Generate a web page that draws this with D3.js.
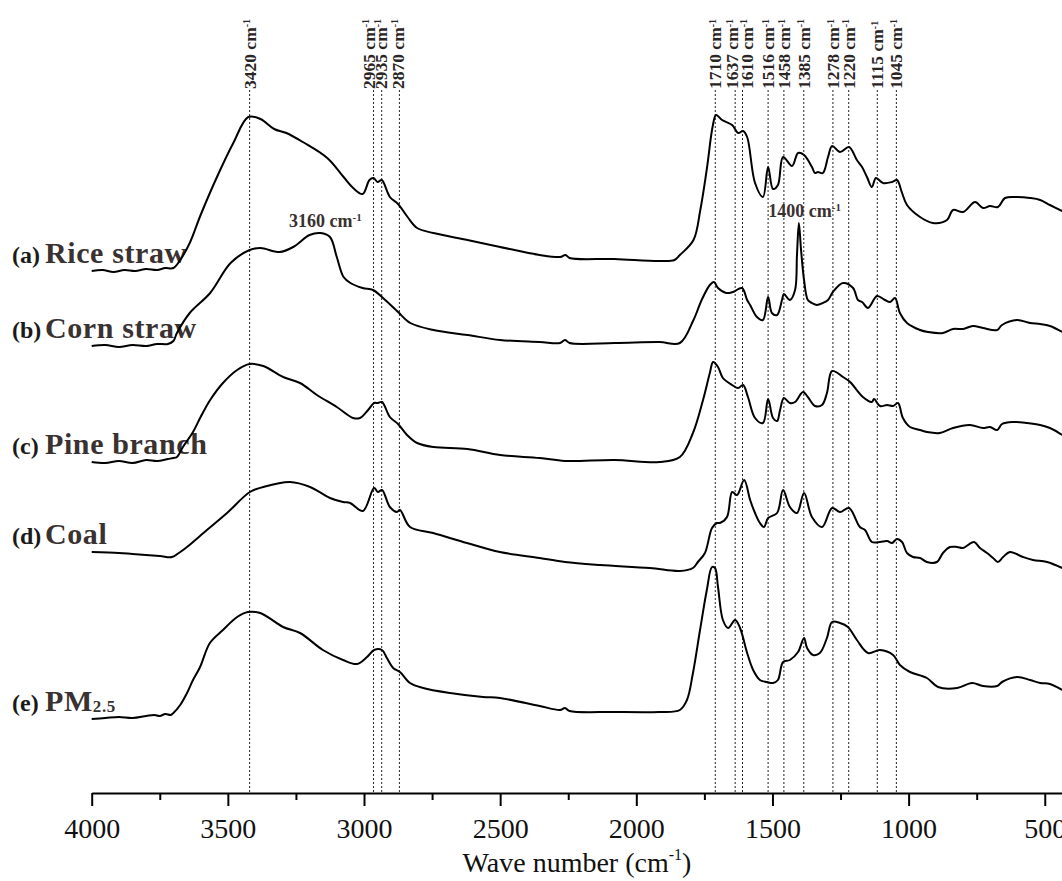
<!DOCTYPE html>
<html>
<head>
<meta charset="utf-8">
<script src="https://cdn.jsdelivr.net/npm/d3@7"></script>
<style>
body { margin: 0; background: #fff; }
svg { display: block; font-family: "Liberation Serif", "Times New Roman", serif; }
</style>
</head>
<body>
<script>
// band positions marked with dotted lines (cm-1)
var bandMarks = [3420, 2965, 2935, 2870, 1710, 1637, 1610, 1516, 1458, 1385, 1278, 1220, 1115, 1045];
// extra peak notes on the corn straw curve
var peakNotes = [3160, 1400];

var tickLabels = [4000, 3500, 3000, 2500, 2000, 1500, 1000, 500];
var minorTicks = [3750, 3250, 2750, 2250, 1750, 1250, 750];

var sampleTags = ["(a)", "(b)", "(c)", "(d)", "(e)"];
var sampleNames = ["Rice straw", "Corn straw", "Pine branch", "Coal", "PM"];

// [wavenumber, stacked intensity (a.u.)]
var riceStraw = [[4000,5.22],[3960,5.23],[3920,5.21],[3880,5.23],[3840,5.22],[3800,5.24],[3760,5.23],[3730,5.25],[3700,5.25],[3675,5.33],[3640,5.50],[3600,5.78],[3540,6.16],[3480,6.50],[3425,6.76],[3380,6.74],[3330,6.64],[3285,6.60],[3225,6.51],[3135,6.35],[3075,6.16],[3040,6.05],[3005,5.99],[2980,6.13],[2965,6.15],[2950,6.11],[2935,6.13],[2905,5.96],[2875,5.89],[2840,5.76],[2805,5.65],[2745,5.60],[2620,5.53],[2500,5.46],[2355,5.38],[2280,5.36],[2260,5.38],[2245,5.35],[2080,5.34],[1915,5.32],[1860,5.33],[1840,5.38],[1790,5.53],[1765,5.83],[1740,6.26],[1720,6.66],[1707,6.78],[1685,6.73],[1648,6.68],[1626,6.60],[1608,6.62],[1593,6.56],[1564,6.10],[1535,5.96],[1516,6.26],[1498,6.04],[1480,6.08],[1461,6.36],[1428,6.27],[1406,6.40],[1384,6.38],[1355,6.26],[1344,6.20],[1333,6.21],[1315,6.20],[1296,6.36],[1281,6.47],[1252,6.41],[1219,6.46],[1190,6.33],[1171,6.26],[1153,6.16],[1135,6.06],[1120,6.15],[1094,6.10],[1061,6.11],[1043,6.13],[1024,6.00],[1006,5.88],[958,5.76],[911,5.70],[859,5.73],[837,5.83],[800,5.81],[756,5.91],[727,5.85],[701,5.87],[672,5.86],[646,5.95],[602,5.96],[554,5.95],[517,5.93],[481,5.88],[436,5.82]];

var cornStraw = [[4000,4.47],[3950,4.48],[3900,4.46],[3850,4.48],[3800,4.47],[3760,4.49],[3720,4.49],[3700,4.52],[3687,4.60],[3640,4.80],[3565,5.00],[3490,5.30],[3420,5.43],[3380,5.45],[3310,5.41],[3260,5.46],[3200,5.58],[3160,5.60],[3125,5.56],[3100,5.36],[3075,5.16],[3050,5.10],[3005,5.05],[2967,5.03],[2930,4.95],[2875,4.81],[2830,4.70],[2745,4.63],[2620,4.58],[2500,4.53],[2355,4.51],[2280,4.50],[2262,4.53],[2245,4.50],[2080,4.50],[1915,4.51],[1840,4.50],[1790,4.73],[1760,4.93],[1730,5.08],[1715,5.11],[1700,5.05],[1670,5.00],[1645,5.01],[1612,5.05],[1593,4.93],[1582,4.88],[1557,4.76],[1535,4.73],[1516,4.96],[1502,4.80],[1483,4.78],[1465,4.93],[1458,4.99],[1436,4.93],[1417,5.03],[1410,5.38],[1403,5.70],[1395,5.43],[1384,5.13],[1370,4.93],[1355,4.90],[1337,4.88],[1315,4.90],[1296,4.93],[1278,5.01],[1241,5.10],[1204,5.05],[1186,4.93],[1171,4.91],[1149,4.85],[1116,4.97],[1087,4.93],[1068,4.91],[1050,4.95],[1032,4.80],[1006,4.70],[958,4.63],[929,4.61],[874,4.60],[837,4.64],[800,4.64],[764,4.67],[727,4.65],[675,4.63],[657,4.68],[602,4.73],[554,4.70],[517,4.69],[481,4.67],[436,4.61]];

var pineBranch = [[4000,3.31],[3950,3.30],[3900,3.32],[3850,3.30],[3800,3.33],[3760,3.32],[3720,3.34],[3700,3.35],[3687,3.36],[3665,3.46],[3628,3.61],[3600,3.76],[3565,3.93],[3518,4.10],[3466,4.23],[3420,4.29],[3370,4.27],[3297,4.16],[3235,4.10],[3173,3.98],[3100,3.86],[3040,3.75],[3015,3.75],[2985,3.83],[2963,3.90],[2949,3.90],[2934,3.91],[2905,3.76],[2875,3.69],[2842,3.58],[2805,3.50],[2745,3.46],[2620,3.44],[2500,3.38],[2355,3.35],[2262,3.32],[2080,3.33],[1915,3.31],[1840,3.36],[1792,3.60],[1755,3.93],[1730,4.20],[1718,4.31],[1700,4.26],[1682,4.15],[1648,4.08],[1626,4.05],[1608,4.08],[1590,3.96],[1564,3.75],[1535,3.70],[1516,3.94],[1498,3.75],[1483,3.72],[1472,3.83],[1458,3.95],[1436,3.90],[1417,3.91],[1388,4.01],[1370,3.96],[1344,3.87],[1318,3.88],[1300,4.00],[1281,4.22],[1241,4.16],[1215,4.11],[1168,3.96],[1135,3.91],[1127,3.94],[1105,3.87],[1079,3.88],[1057,3.87],[1039,3.90],[1021,3.75],[995,3.66],[958,3.63],[933,3.61],[885,3.60],[837,3.65],[775,3.68],[727,3.65],[701,3.66],[675,3.63],[657,3.69],[617,3.71],[565,3.70],[517,3.68],[481,3.65],[436,3.58]];

var coal = [[4000,2.41],[3900,2.40],[3850,2.39],[3750,2.37],[3705,2.36],[3680,2.40],[3650,2.46],[3577,2.63],[3503,2.80],[3419,3.01],[3370,3.06],[3272,3.11],[3198,3.06],[3125,2.95],[3077,2.91],[3051,2.90],[3004,2.82],[2963,3.05],[2949,3.01],[2934,3.03],[2905,2.86],[2879,2.81],[2868,2.83],[2831,2.66],[2746,2.60],[2622,2.50],[2501,2.41],[2355,2.35],[2262,2.31],[2133,2.28],[1950,2.25],[1840,2.22],[1792,2.25],[1774,2.31],[1748,2.40],[1722,2.65],[1704,2.70],[1693,2.70],[1667,2.76],[1648,3.01],[1630,2.98],[1604,3.13],[1582,2.93],[1564,2.80],[1546,2.70],[1531,2.66],[1516,2.75],[1483,2.80],[1461,3.03],[1436,2.86],[1410,2.80],[1384,3.00],[1355,2.76],[1318,2.66],[1281,2.85],[1252,2.81],[1219,2.85],[1179,2.66],[1160,2.63],[1135,2.51],[1105,2.51],[1079,2.52],[1061,2.50],[1043,2.54],[1024,2.51],[1006,2.40],[984,2.36],[958,2.35],[933,2.31],[896,2.31],[874,2.40],[848,2.46],[822,2.46],[800,2.45],[760,2.51],[738,2.45],[712,2.40],[690,2.35],[672,2.31],[653,2.36],[628,2.41],[580,2.36],[543,2.33],[492,2.31],[436,2.25]];

var pm25 = [[4000,0.74],[3950,0.75],[3900,0.76],[3850,0.75],[3800,0.77],[3770,0.78],[3750,0.77],[3730,0.79],[3710,0.78],[3700,0.80],[3675,0.88],[3650,1.00],[3628,1.13],[3602,1.26],[3566,1.50],[3518,1.63],[3466,1.76],[3426,1.81],[3381,1.80],[3297,1.66],[3235,1.60],[3151,1.43],[3077,1.33],[3026,1.29],[2989,1.36],[2963,1.43],[2934,1.43],[2916,1.35],[2893,1.25],[2868,1.21],[2831,1.10],[2783,1.05],[2684,1.00],[2563,0.96],[2501,0.95],[2355,0.87],[2280,0.83],[2262,0.85],[2245,0.82],[2080,0.81],[1915,0.81],[1840,0.83],[1814,0.93],[1792,1.20],[1766,1.63],[1741,2.03],[1722,2.26],[1711,2.25],[1700,2.06],[1682,1.73],[1663,1.65],[1637,1.73],[1619,1.65],[1593,1.40],[1571,1.23],[1546,1.13],[1520,1.11],[1498,1.10],[1480,1.13],[1461,1.31],[1436,1.33],[1406,1.41],[1384,1.55],[1373,1.45],[1351,1.38],[1326,1.40],[1300,1.55],[1281,1.71],[1252,1.70],[1223,1.66],[1190,1.53],[1149,1.40],[1105,1.43],[1057,1.38],[1032,1.28],[995,1.21],[933,1.15],[892,1.06],[822,1.05],[767,1.10],[727,1.07],[675,1.07],[657,1.11],[602,1.16],[554,1.13],[517,1.10],[481,1.09],[436,1.03]];

var spectra = [riceStraw, cornStraw, pineBranch, coal, pm25];

// sizes
var svgWidth = 1062;
var svgHeight = 881;
var axisY = 793;

var x = d3.scaleLinear().domain([4000, 400]).range([91.7, 1072]);
var y = d3.scaleLinear().domain([0, 7.93]).range([axisY, 0]);

var svg = d3.select("body")
    .append("svg")
    .attr("width", svgWidth)
    .attr("height", svgHeight);

// small sideways shifts so crowded band labels don't collide
var labelNudge = {2965: -5, 2935: -1, 2870: -2, 1637: -3, 1610: 4};

// dotted band lines
svg.append("g")
    .selectAll("line")
    .data(bandMarks)
    .enter()
    .append("line")
    .attr("x1", d => x(d))
    .attr("x2", d => x(d))
    .attr("y1", 90)
    .attr("y2", axisY)
    .attr("stroke", "#222")
    .attr("stroke-width", 1)
    .attr("stroke-dasharray", "2,2");

// band labels, rotated
var bandText = svg.append("g")
    .selectAll("text")
    .data(bandMarks)
    .enter()
    .append("text")
    .attr("transform", d => "translate(" + (x(d) + (labelNudge[d] || 0)) + ",89) rotate(-90)")
    .attr("dy", "0.35em")
    .attr("font-size", 17.5)
    .attr("font-weight", "bold")
    .attr("fill", "#2a2424");
bandText.append("tspan").text(d => d + " cm");
bandText.append("tspan").attr("dy", "-0.55em").attr("font-size", 10).text("-1");

// sample labels (drawn before the curves, the curves run over them)
var labelGroup = svg.append("g");
spectra.forEach(function(s, i) {
    var baseY = y(s[0][1]) - 8;
    labelGroup.append("text")
        .attr("x", 12)
        .attr("y", baseY)
        .attr("font-size", 24)
        .attr("font-weight", "bold")
        .attr("fill", "#1a1a1a")
        .text(sampleTags[i]);
    var name = labelGroup.append("text")
        .attr("x", 45)
        .attr("y", baseY)
        .attr("font-size", 30)
        .attr("font-weight", "bold")
        .attr("letter-spacing", 0.6)
        .attr("fill", "#3a3131")
        .text(sampleNames[i]);
    if (i === 4) {
        name.append("tspan").attr("font-size", 17).attr("dy", 1).text("2.5");
    }
});

// spectra
var line = d3.line()
    .x(d => x(d[0]))
    .y(d => y(d[1]))
    .curve(d3.curveCatmullRom.alpha(0.5));

svg.append("g")
    .selectAll("path")
    .data(spectra)
    .enter()
    .append("path")
    .attr("d", line)
    .attr("fill", "none")
    .attr("stroke", "#000")
    .attr("stroke-width", 2)
    .attr("stroke-linejoin", "round");

// peak notes on corn straw
var noteText = svg.append("g")
    .selectAll("text")
    .data(peakNotes)
    .enter()
    .append("text")
    .attr("x", d => x(d) + 5)
    .attr("y", function(d) {
        var near = cornStraw.reduce((a, b) => Math.abs(b[0] - d) < Math.abs(a[0] - d) ? b : a);
        return y(near[1]) - 6;
    })
    .attr("text-anchor", "middle")
    .attr("font-size", 18)
    .attr("font-weight", "bold")
    .attr("fill", "#3a3131");
noteText.append("tspan").text(d => d + " cm");
noteText.append("tspan").attr("dy", "-0.55em").attr("font-size", 11).text("-1");

// x axis
var gx = svg.append("g")
    .attr("transform", "translate(0," + axisY + ")")
    .call(d3.axisBottom(x)
        .tickValues(tickLabels)
        .tickSize(13)
        .tickSizeOuter(0)
        .tickPadding(12)
        .tickFormat(d3.format("d")));
gx.select(".domain").attr("stroke-width", 2).attr("stroke", "#000");
gx.selectAll(".tick line").attr("stroke-width", 2).attr("stroke", "#000");
gx.selectAll(".tick text")
    .attr("font-size", 28)
    .attr("font-family", "Liberation Serif, Times New Roman, serif")
    .attr("fill", "#111");

var gMinor = svg.append("g")
    .attr("transform", "translate(0," + axisY + ")")
    .call(d3.axisBottom(x).tickValues(minorTicks).tickSize(7).tickFormat(""));
gMinor.select(".domain").remove();
gMinor.selectAll(".tick line").attr("stroke-width", 2).attr("stroke", "#000");

// axis title
var title = svg.append("text")
    .attr("x", 577)
    .attr("y", 872)
    .attr("text-anchor", "middle")
    .attr("font-size", 28)
    .attr("fill", "#111");
title.append("tspan").text("Wave  number (cm");
title.append("tspan").attr("dy", -12).attr("font-size", 16).text("-1");
title.append("tspan").attr("dy", 12).text(")");
</script>
</body>
</html>
